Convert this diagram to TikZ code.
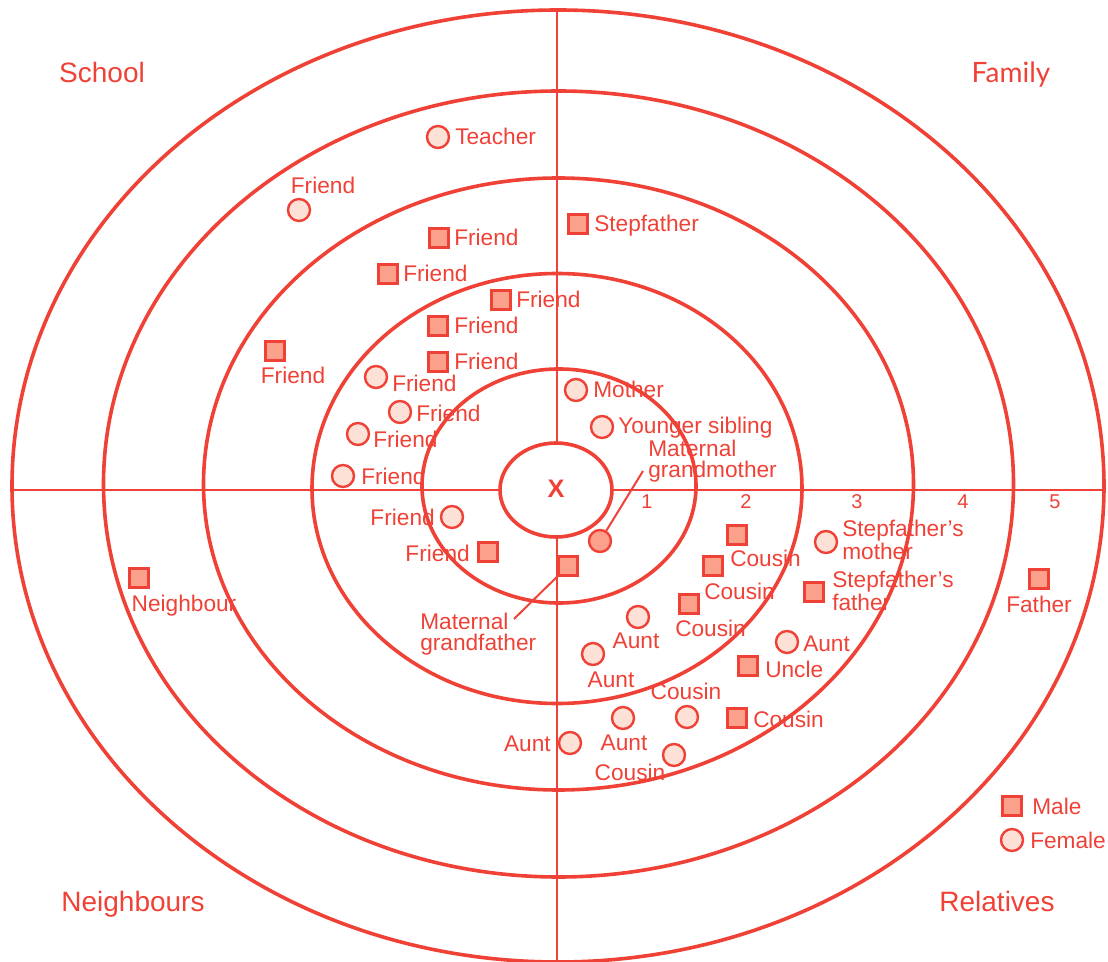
\documentclass[tikz,border=0pt]{standalone}
\usepackage{fontspec}
\setmainfont{Liberation Sans}
\newfontfamily\latofont{Lato}
\definecolor{ringred}{HTML}{EF4136}
\definecolor{malefill}{HTML}{FBA18B}
\definecolor{femalefill}{HTML}{FDE1D6}
\begin{document}
\begin{tikzpicture}[x=0.75pt,y=-0.75pt,
  ring/.style={draw=ringred,line width=2.7pt},
  axis/.style={draw=ringred,line width=2pt},
  male/.style={draw=ringred,fill=malefill,line width=1.8pt,rectangle,minimum size=14.5pt,inner sep=0pt},
  female/.style={draw=ringred,fill=femalefill,line width=1.8pt,circle,minimum size=16.5pt,inner sep=0pt},
  elder/.style={female,fill=malefill},
  lbl/.style={text=ringred,inner sep=0pt,font=\fontsize{17}{15.75}\selectfont},
  lw/.style={lbl,anchor=base west},
  le/.style={lbl,anchor=base east},
  lc/.style={lbl,anchor=base},
  ml/.style={lbl,anchor=north west,align=left},
  cat/.style={text=ringred,inner sep=0pt,anchor=base,font=\fontsize{21}{24}\selectfont},
  num/.style={text=ringred,inner sep=0pt,anchor=base,font=\fontsize{15}{18}\selectfont},
  lead/.style={draw=ringred,line width=1.5pt}]
\useasboundingbox (0,0) rectangle (1108,962);

% concentric rings
\draw[ring] (558,486) ellipse [x radius=546, y radius=476];
\draw[ring] (558.5,484) ellipse [x radius=455, y radius=393];
\draw[ring] (558.5,484) ellipse [x radius=355, y radius=306];
\draw[ring] (557,488.5) ellipse [x radius=245, y radius=215];
\draw[ring] (559,486) ellipse [x radius=137, y radius=117];

% axes
\coordinate (axL) at (12,490);
\coordinate (axR) at (1105,490);
\coordinate (axT) at (557,10);
\coordinate (axB) at (557,962);
\draw[axis] (axL) -- (axR);
\draw[axis] (axT) -- (axB);

% centre
\draw[ring,fill=white] (556,490) ellipse [x radius=56, y radius=47];
\node[text=ringred,inner sep=0pt,font=\bfseries\fontsize{19}{22}\selectfont] (me) at (556,489) {X};

% ring numbers
\node[num] (n1) at (647,509) {1};
\node[num] (n2) at (746,509) {2};
\node[num] (n3) at (857,509) {3};
\node[num] (n4) at (963,509) {4};
\node[num] (n5) at (1055,509) {5};

% sectors
\node[cat] (school) at (102,83) {School};
\node[cat,font=\latofont\fontsize{21}{24}\selectfont] (family) at (1011,83) {Family};
\node[cat] (neighbours) at (133,911) {Neighbours};
\node[cat] (relatives) at (997,911) {Relatives};

% school
\node[female] (teacher) at (438,137) {};
\node[lw] (teacherL) at (455,145) {Teacher};
\node[female] (fr1) at (299,210) {};
\node[lc] (fr1L) at (323,194) {Friend};
\node[male] (fr2) at (439,238) {};
\node[lw] (fr2L) at (454,246) {Friend};
\node[male] (fr3) at (388,274) {};
\node[lw] (fr3L) at (403,282) {Friend};
\node[male] (fr4) at (501,300) {};
\node[lw] (fr4L) at (516,308) {Friend};
\node[male] (fr5) at (438,326) {};
\node[lw] (fr5L) at (454,334) {Friend};
\node[male] (fr6) at (275,351) {};
\node[lc] (fr6L) at (293,384) {Friend};
\node[male] (fr7) at (438,362) {};
\node[lw] (fr7L) at (454,370) {Friend};
\node[female] (fr8) at (376,377) {};
\node[lw] (fr8L) at (392,392) {Friend};
\node[female] (fr9) at (400,412) {};
\node[lw] (fr9L) at (416,422) {Friend};
\node[female] (fr10) at (358,434) {};
\node[lw] (fr10L) at (373,448) {Friend};
\node[female] (fr11) at (343,476) {};
\node[lw] (fr11L) at (361,485) {Friend};

% neighbours
\node[female] (fr12) at (452,517) {};
\node[le] (fr12L) at (435,526) {Friend};
\node[male] (fr13) at (488,552) {};
\node[le] (fr13L) at (470,562) {Friend};
\node[male] (mgf) at (568,566) {};
\coordinate (mgfTip) at (514,619);
\draw[lead] (mgf) -- (mgfTip);
\node[ml] (mgfL) at (420,613) {Maternal\\grandfather};
\node[male] (nb) at (139,578) {};
\node[lc] (nbL) at (184,612) {Neighbour};

% family
\node[male] (stepf) at (578,224) {};
\node[lw] (stepfL) at (594,232) {Stepfather};
\node[female] (mother) at (576,390) {};
\node[lw] (motherL) at (593,398) {Mother};
\node[female] (sib) at (602,427) {};
\node[lw] (sibL) at (618,434) {Younger sibling};
\node[elder] (mgm) at (600,541) {};
\coordinate (mgmTip) at (643,471);
\draw[lead] (mgm) -- (mgmTip);
\node[ml] (mgmL) at (648,440) {Maternal\\grandmother};
\node[male] (father) at (1039,579) {};
\node[lc] (fatherL) at (1039,613) {Father};

% relatives
\node[male] (cz1) at (737,535) {};
\node[lw] (cz1L) at (730,567) {Cousin};
\node[male] (cz2) at (713,566) {};
\node[lw] (cz2L) at (704,600) {Cousin};
\node[male] (cz3) at (689,604) {};
\node[lw] (cz3L) at (675,637) {Cousin};
\node[female] (sfm) at (826,542) {};
\node[ml] (sfmL) at (842,520) {Stepfather’s\\mother};
\node[male] (sff) at (814,592) {};
\node[ml] (sffL) at (832,571) {Stepfather’s\\father};
\node[female] (au1) at (638,617) {};
\node[lc] (au1L) at (636,649) {Aunt};
\node[female] (au2) at (787,642) {};
\node[lw] (au2L) at (803,652) {Aunt};
\node[female] (au3) at (593,654) {};
\node[lc] (au3L) at (611,688) {Aunt};
\node[male] (uncle) at (748,666) {};
\node[lw] (uncleL) at (765,678) {Uncle};
\node[female] (cz4) at (687,717) {};
\node[lc] (cz4L) at (686,700) {Cousin};
\node[male] (cz5) at (737,718) {};
\node[lw] (cz5L) at (753,728) {Cousin};
\node[female] (au4) at (623,718) {};
\node[lc] (au4L) at (624,750) {Aunt};
\node[female] (au5) at (570,743) {};
\node[le] (au5L) at (551,752) {Aunt};
\node[female] (cz6) at (674,755) {};
\node[lc] (cz6L) at (630,780) {Cousin};

% legend
\node[male] (keyM) at (1012,806) {};
\node[lw] (keyML) at (1032,814) {Male};
\node[female] (keyF) at (1012,840) {};
\node[lw] (keyFL) at (1030,848) {Female};
\end{tikzpicture}
\end{document}
